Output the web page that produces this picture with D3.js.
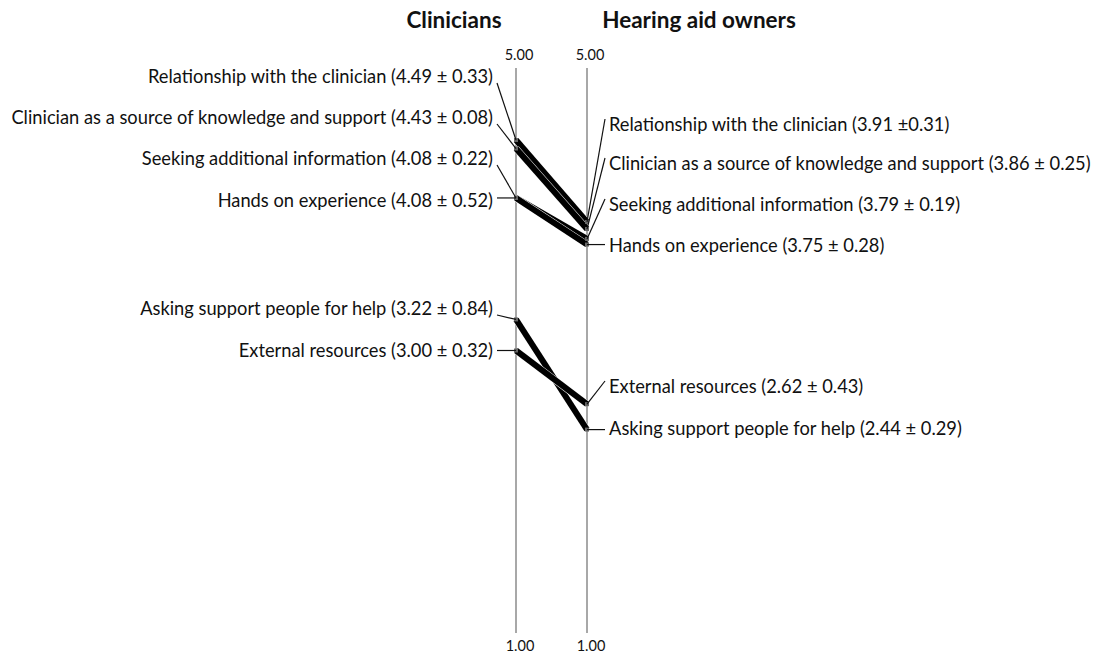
<!DOCTYPE html>
<html>
<head>
<meta charset="utf-8">
<script src="https://d3js.org/d3.v7.min.js"></script>
<style>
  body { margin: 0; background: #fff; }
  text { font-family: Lato, "Open Sans", sans-serif; fill: #111; }
  .lbl { font-size: 18.3px; }
  .tick { font-size: 14.5px; }
  .title { font-size: 22.5px; font-weight: bold; }
</style>
</head>
<body>
<div id="chart"></div>
<script>
// categories and values
var items = ["Relationship with the clinician",
             "Clinician as a source of knowledge and support",
             "Seeking additional information",
             "Hands on experience",
             "Asking support people for help",
             "External resources"];
var clinMean = [4.49, 4.43, 4.08, 4.08, 3.22, 3.00];
var clinSD   = ["0.33", "0.08", "0.22", "0.52", "0.84", "0.32"];
var ownMean  = [3.91, 3.86, 3.79, 3.75, 2.44, 2.62];
var ownSD    = ["\u00b10.31", "\u00b1 0.25", "\u00b1 0.19", "\u00b1 0.28", "\u00b1 0.29", "\u00b1 0.43"];
var groups = ["Clinicians", "Hearing aid owners"];
var axisTicks = ["5.00", "1.00"];

// layout: vertical centre of each callout label (px)
var clinLabelY = [77, 118, 159, 201, 309, 351];
var ownLabelY  = [125, 164, 205, 246, 429, 387];

var width = 1096, height = 654;
var svg = d3.select("#chart").append("svg")
    .attr("width", width).attr("height", height);

var x = d3.scalePoint().domain(groups).range([516, 587]);
var y = d3.scaleLinear().domain([1, 5]).range([633, 68]);

// titles
svg.append("text").attr("class", "title")
    .attr("x", 454).attr("y", 28).attr("text-anchor", "middle").text(groups[0]);
svg.append("text").attr("class", "title")
    .attr("x", 699).attr("y", 28).attr("text-anchor", "middle").text(groups[1]);

// vertical axes
groups.forEach(function(g) {
  svg.append("line")
     .attr("x1", x(g)).attr("x2", x(g))
     .attr("y1", y(5)).attr("y2", y(1))
     .attr("stroke", "#a8a8a8").attr("stroke-width", 2);
  svg.append("text").attr("class", "tick").attr("text-anchor", "middle")
     .attr("x", x(g) + 3).attr("y", y(5) - 8).text(axisTicks[0]);
  svg.append("text").attr("class", "tick").attr("text-anchor", "middle")
     .attr("x", x(g) + 4).attr("y", y(1) + 18).text(axisTicks[1]);
});

var xl = x(groups[0]), xr = x(groups[1]);

// slope lines
var lines = svg.append("g");
items.forEach(function(d, i) {
  lines.append("line")
     .attr("x1", xl).attr("y1", y(clinMean[i]))
     .attr("x2", xr).attr("y2", y(ownMean[i]))
     .attr("stroke", "#fff").attr("stroke-width", 7);
  lines.append("line")
     .attr("x1", xl).attr("y1", y(clinMean[i]))
     .attr("x2", xr).attr("y2", y(ownMean[i]))
     .attr("stroke", "#000").attr("stroke-width", 6);
});
// end markers
items.forEach(function(d, i) {
  svg.append("rect").attr("x", xl - 2).attr("y", y(clinMean[i]) - 2)
     .attr("width", 4).attr("height", 4).attr("fill", "#666");
  svg.append("rect").attr("x", xr - 2).attr("y", y(ownMean[i]) - 2)
     .attr("width", 4).attr("height", 4).attr("fill", "#666");
});

// left labels and leaders
items.forEach(function(d, i) {
  var ly = clinLabelY[i];
  svg.append("text").attr("class", "lbl").attr("text-anchor", "end")
     .attr("x", 493).attr("y", ly).attr("dy", "0.35em")
     .text(d + " (" + clinMean[i].toFixed(2) + " \u00b1 " + clinSD[i] + ")");
  var flat = Math.abs(ly - y(clinMean[i])) < 6;
  svg.append("line")
     .attr("x1", 497).attr("y1", flat ? y(clinMean[i]) : ly + 6)
     .attr("x2", xl).attr("y2", y(clinMean[i]))
     .attr("stroke", "#111").attr("stroke-width", 1.2);
});

// right labels and leaders
items.forEach(function(d, i) {
  var ly = ownLabelY[i];
  svg.append("text").attr("class", "lbl").attr("text-anchor", "start")
     .attr("x", 609).attr("y", ly).attr("dy", "0.35em")
     .text(d + " (" + ownMean[i].toFixed(2) + " " + ownSD[i] + ")");
  var flat = Math.abs(ly - y(ownMean[i])) < 6;
  svg.append("line")
     .attr("x1", 605).attr("y1", flat ? y(ownMean[i]) : ly - 6)
     .attr("x2", xr).attr("y2", y(ownMean[i]))
     .attr("stroke", "#111").attr("stroke-width", 1.2);
});
</script>
</body>
</html>
